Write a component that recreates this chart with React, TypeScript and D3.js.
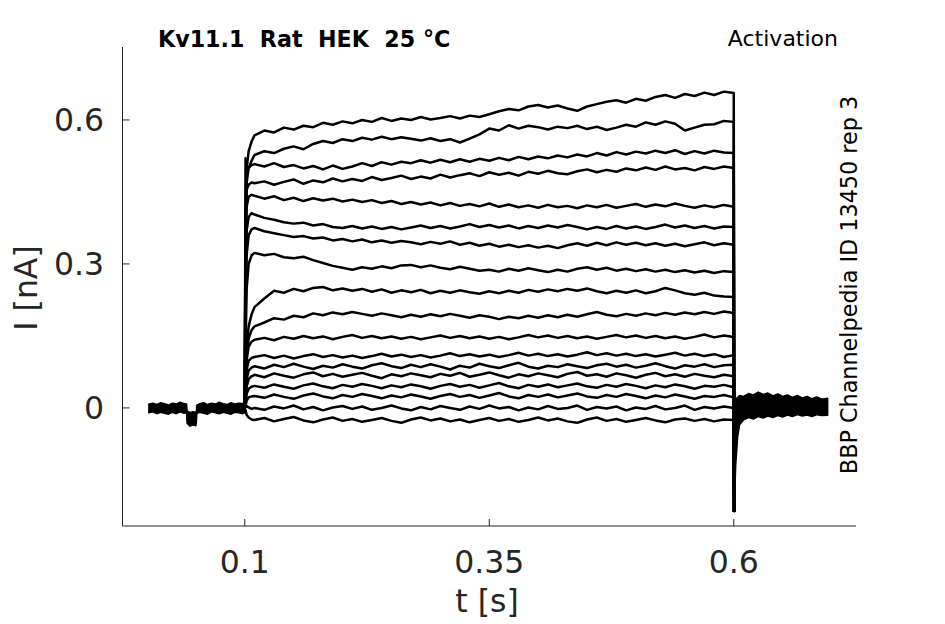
import React from "react";
import * as d3 from "d3";

// time grid of the step (s)
const TIME = [
  0.1, 0.1008, 0.102, 0.104, 0.107,
  0.11, 0.12, 0.13, 0.14, 0.15, 0.16, 0.17, 0.18, 0.19, 0.2,
  0.21, 0.22, 0.23, 0.24, 0.25, 0.26, 0.27, 0.28, 0.29, 0.3,
  0.31, 0.32, 0.33, 0.34, 0.35, 0.36, 0.37, 0.38, 0.39, 0.4,
  0.41, 0.42, 0.43, 0.44, 0.45, 0.46, 0.47, 0.48, 0.49, 0.5,
  0.51, 0.52, 0.53, 0.54, 0.55, 0.56, 0.57, 0.58, 0.59, 0.6,
];

// current during the step, pA, one list per sweep (top to bottom)
const SWEEP_01 = [0, 420, 500, 535, 555,
  568, 578, 574, 584, 580, 588, 585, 594, 590, 597,
  593, 600, 596, 604, 598, 603, 600, 606, 601, 604,
  608, 603, 609, 606, 612, 618, 623, 620, 628, 631,
  626, 630, 624, 619, 628, 633, 638, 641, 636, 644,
  640, 648, 652, 646, 654, 650, 657, 652, 659, 656];
const SWEEP_02 = [0, 350, 470, 500, 515,
  527, 535, 531, 540, 545, 539, 550, 556, 552, 560,
  556, 563, 559, 565, 560, 564, 561, 557, 562, 556,
  560, 553, 561, 570, 582, 578, 589, 582, 588, 585,
  580, 586, 583, 588, 581, 586, 579, 584, 590, 586,
  595, 590, 597, 592, 578, 584, 590, 591, 598, 596];
const SWEEP_03 = [0, 520, 490, 500, 506,
  508, 503, 510, 502, 506, 499, 504, 497, 505, 498,
  503, 510, 504, 512, 507, 513, 510, 516, 511, 517,
  512, 518, 513, 519, 515, 521, 516, 523, 518, 524,
  520, 526, 522, 528, 524, 531, 526, 533, 528, 534,
  530, 536, 531, 537, 529, 535, 530, 536, 532, 531];
const SWEEP_04 = [0, 380, 455, 465, 470,
  468, 472, 465, 471, 476, 467, 474, 470, 478, 472,
  477, 473, 481, 475, 479, 484, 477, 482, 478, 486,
  480, 485, 489, 483, 491, 486, 490, 484, 492, 488,
  494, 489, 487, 493, 497, 491, 496, 492, 499, 495,
  501, 496, 503, 497, 500, 495, 502, 498, 503, 500];
const SWEEP_05 = [0, 300, 420, 440, 444,
  442, 436, 441, 433, 438, 431, 437, 432, 436, 430,
  434, 429, 433, 427, 431, 425, 429, 424, 428, 422,
  427, 421, 425, 420, 426, 419, 424, 418, 422, 417,
  423, 418, 421, 416, 422, 418, 423, 417, 421, 425,
  419, 424, 420, 426, 421, 417, 422, 418, 423, 419];
const SWEEP_06 = [0, 260, 370, 398, 406,
  403, 396, 392, 387, 384, 386, 380, 383, 377, 375,
  379, 374, 378, 373, 377, 372, 376, 380, 375, 379,
  374, 378, 383, 377, 381, 376, 380, 374, 379, 375,
  380, 376, 381, 377, 372, 377, 373, 379, 374, 378,
  373, 377, 382, 376, 380, 375, 379, 374, 378, 377];
const SWEEP_07 = [0, 200, 320, 360, 372,
  375, 368, 364, 360, 356, 358, 353, 355, 349, 352,
  347, 351, 345, 349, 344, 348, 345, 341, 346, 342,
  347, 340, 344, 338, 342, 336, 340, 335, 339, 334,
  338, 333, 339, 343, 338, 344, 339, 345, 340, 344,
  339, 343, 338, 342, 337, 341, 345, 339, 343, 340];
const SWEEP_08 = [0, 130, 250, 300, 318,
  323, 318, 321, 314, 312, 315, 308, 302, 296, 292,
  288, 293, 290, 295, 291, 297, 298, 293, 297, 292,
  289, 294, 290, 286, 288, 284, 290, 286, 291, 287,
  283, 288, 284, 290, 293, 288, 292, 286, 290, 285,
  289, 284, 288, 283, 287, 282, 286, 281, 285, 283];
const SWEEP_09 = [0, 60, 130, 170, 195,
  210, 228, 244, 240, 248, 243, 250, 252, 245, 249,
  244, 248, 242, 247, 240, 245, 241, 246, 239, 244,
  240, 245, 241, 238, 243, 239, 244, 240, 246, 242,
  247, 243, 248, 244, 249, 243, 239, 244, 240, 245,
  239, 243, 250, 245, 239, 236, 240, 234, 232, 231];
const SWEEP_10 = [0, 50, 110, 145, 162,
  170, 178, 187, 184, 192, 189, 197, 193, 199, 195,
  200, 196, 192, 197, 193, 189, 194, 190, 195, 191,
  196, 192, 188, 193, 190, 185, 190, 187, 192, 188,
  193, 189, 194, 190, 195, 200, 194, 191, 196, 192,
  197, 193, 198, 194, 199, 195, 200, 196, 201, 198];
const SWEEP_11 = [0, 40, 100, 128, 138,
  142, 146, 141, 148, 144, 150, 145, 149, 143, 148,
  152, 146, 150, 145, 149, 144, 148, 143, 147, 151,
  146, 150, 145, 149, 144, 148, 143, 147, 152, 147,
  151, 146, 150, 145, 149, 144, 148, 152, 147, 151,
  146, 150, 145, 149, 144, 148, 153, 147, 151, 148];
const SWEEP_12 = [0, 30, 80, 98, 104,
  106, 110, 104, 109, 103, 108, 112, 106, 110, 105,
  109, 104, 108, 113, 107, 111, 106, 110, 105, 109,
  114, 108, 112, 107, 111, 106, 110, 115, 109, 113,
  108, 112, 107, 111, 116, 110, 114, 109, 113, 108,
  112, 107, 111, 115, 109, 113, 108, 112, 106, 110];
const SWEEP_13 = [0, 20, 60, 78, 84,
  87, 82, 90, 85, 92, 86, 81, 88, 84, 91,
  86, 82, 89, 93, 87, 83, 90, 85, 91, 86,
  80, 88, 84, 92, 87, 83, 89, 94, 86, 82,
  88, 85, 91, 87, 83, 89, 92, 86, 90, 84,
  88, 93, 87, 82, 89, 86, 91, 85, 89, 90];
const SWEEP_14 = [0, 15, 45, 60, 66,
  69, 64, 72, 67, 63, 70, 74, 66, 71, 65,
  69, 73, 67, 62, 70, 66, 72, 68, 64, 71,
  67, 73, 65, 69, 74, 68, 63, 70, 66, 72,
  68, 64, 71, 75, 67, 70, 65, 72, 68, 63,
  69, 73, 66, 70, 65, 71, 67, 64, 69, 66];
const SWEEP_15 = [0, 10, 30, 40, 44,
  46, 42, 49, 44, 40, 47, 51, 45, 41, 48,
  44, 50, 46, 41, 47, 43, 49, 45, 40, 46,
  50, 44, 48, 42, 47, 52, 45, 41, 48, 44,
  49, 43, 47, 51, 45, 42, 48, 44, 50, 46,
  41, 47, 43, 49, 45, 40, 46, 44, 48, 43];
const SWEEP_16 = [0, 5, 15, 22, 24,
  25, 21, 28, 23, 19, 26, 30, 24, 20, 27,
  23, 29, 25, 20, 26, 22, 28, 24, 19, 25,
  29, 23, 27, 21, 26, 31, 24, 20, 27, 23,
  28, 22, 26, 30, 24, 21, 27, 23, 29, 25,
  20, 26, 22, 28, 24, 19, 25, 23, 27, 22];
const SWEEP_17 = [0, 2, 4, 1, -2,
  0, -4, 3, -1, 5, -3, 2, -5, 1, 4,
  -2, 3, -4, 0, 5, -1, -5, 2, -3, 4,
  0, -4, 3, -2, 5, -1, 2, -5, 1, -3,
  4, -2, 0, 5, -4, 2, -1, 3, -5, 1,
  -2, 4, -3, 0, 5, -4, 2, -1, 3, 0];
const SWEEP_18 = [0, -5, -15, -20, -24,
  -25, -21, -28, -23, -19, -26, -30, -24, -20, -27,
  -23, -29, -25, -21, -27, -31, -24, -20, -26, -22,
  -28, -24, -30, -25, -21, -27, -23, -29, -25, -20,
  -26, -22, -28, -31, -24, -20, -27, -23, -29, -25,
  -21, -26, -30, -24, -22, -27, -23, -28, -24, -25];

const SWEEPS = [
  SWEEP_01, SWEEP_02, SWEEP_03, SWEEP_04, SWEEP_05, SWEEP_06,
  SWEEP_07, SWEEP_08, SWEEP_09, SWEEP_10, SWEEP_11, SWEEP_12,
  SWEEP_13, SWEEP_14, SWEEP_15, SWEEP_16, SWEEP_17, SWEEP_18,
];

// holding period before the step: envelope of all overlapping sweeps (pA)
const BASE_T = [
  0.002, 0.006, 0.01, 0.014, 0.018, 0.022, 0.026, 0.03, 0.034, 0.038,
  0.0405, 0.041, 0.044, 0.047, 0.05, 0.0505, 0.051, 0.054, 0.058, 0.062,
  0.066, 0.07, 0.074, 0.078, 0.082, 0.086, 0.09, 0.094, 0.098, 0.1,
];
const BASE_HI = [8, 10, 7, 11, 9, 6, 10, 8, 12, 9, 8, -6, -10, -8, -9, -7, 6, 9, 11, 7, 10, 8, 12, 9, 7, 11, 8, 10, 9, 8];
const BASE_LO = [-10, -8, -12, -9, -11, -13, -9, -12, -8, -11, -10, -32, -38, -35, -37, -30, -12, -9, -11, -13, -8, -10, -12, -9, -11, -13, -9, -10, -12, -10];

// tail after the step: envelope of all sweeps (pA)
const TAIL_T = [
  0.6004, 0.6008, 0.602, 0.604, 0.606, 0.61, 0.615, 0.62, 0.625, 0.63, 0.635, 0.64,
  0.645, 0.65, 0.655, 0.66, 0.665, 0.67, 0.675, 0.68, 0.685, 0.69, 0.696,
];
const TAIL_HI = [0, 10, 18, 22, 26, 24, 30, 27, 33, 28, 31, 25, 29, 24, 27, 22, 26, 21, 24, 19, 23, 18, 20];
const TAIL_LO = [-217, -190, -120, -60, -35, -25, -20, -23, -18, -21, -17, -20, -16, -19, -15, -18, -14, -17, -15, -18, -14, -16, -15];

const X_TICKS = [0.1, 0.35, 0.6];
const X_LABELS = ["0.1", "0.35", "0.6"];
const Y_TICKS = [0, 0.3, 0.6];
const Y_LABELS = ["0", "0.3", "0.6"];

const FONT = "'DejaVu Sans', sans-serif";
const AXIS = "#262626";

export default function App() {
  const x = d3.scaleLinear().domain([-0.025, 0.725]).range([122.5, 856]);
  const y = d3.scaleLinear().domain([-0.246, 0.752]).range([526, 47]);

  const line = d3
    .line<[number, number]>()
    .x((d) => x(d[0]))
    .y((d) => y(d[1] / 1000));

  const area = d3
    .area<[number, number, number]>()
    .x((d) => x(d[0]))
    .y0((d) => y(d[2] / 1000))
    .y1((d) => y(d[1] / 1000));

  const basePts = BASE_T.map((t, i) => [t, BASE_HI[i], BASE_LO[i]] as [number, number, number]);
  const tailPts = TAIL_T.map((t, i) => [t, TAIL_HI[i], TAIL_LO[i]] as [number, number, number]);

  const sweepPaths = SWEEPS.map((vals) => {
    const pts = vals.map((v, i) => [TIME[i], v] as [number, number]);
    pts.push([TAIL_T[0], TAIL_LO[0]]);
    return line(pts) || "";
  });

  const [x0, x1] = x.range();
  const [yb, yt] = y.range();

  return (
    <svg
      width={945}
      height={624}
      style={{ position: "absolute", left: 0, top: 0, background: "#fff" }}
      fontFamily={FONT}
    >
      {/* traces */}
      <path d={area(basePts) || ""} fill="#000" stroke="#000" strokeWidth={1.5} strokeLinejoin="round" />
      <path d={area(tailPts) || ""} fill="#000" stroke="#000" strokeWidth={1.5} strokeLinejoin="round" />
      {sweepPaths.map((d, i) => (
        <path key={i} d={d} fill="none" stroke="#000" strokeWidth={2.5} strokeLinejoin="round" />
      ))}

      {/* axes */}
      <line x1={x0} x2={x0} y1={yt} y2={yb} stroke={AXIS} strokeWidth={1} />
      <line x1={x0} x2={x1} y1={yb} y2={yb} stroke={AXIS} strokeWidth={1} />
      {Y_TICKS.map((t, i) => (
        <g key={t}>
          <line x1={x0} x2={x0 + 7} y1={y(t)} y2={y(t)} stroke={AXIS} strokeWidth={1} />
          <text x={104} y={y(t) + 11.5} fontSize={31.5} fill={AXIS} textAnchor="end">
            {Y_LABELS[i]}
          </text>
        </g>
      ))}
      {X_TICKS.map((t, i) => (
        <g key={t}>
          <line x1={x(t)} x2={x(t)} y1={yb} y2={yb - 7} stroke={AXIS} strokeWidth={1} />
          <text x={x(t)} y={573} fontSize={31.5} fill={AXIS} textAnchor="middle">
            {X_LABELS[i]}
          </text>
        </g>
      ))}

      {/* axis labels */}
      <text x={487} y={612} fontSize={31.5} fill={AXIS} textAnchor="middle">
        t [s]
      </text>
      <text transform="translate(37,288) rotate(-90)" fontSize={31.5} fill={AXIS} textAnchor="middle">
        I [nA]
      </text>

      {/* annotations */}
      <text x={158} y={47} fontSize={22.2} fontWeight="bold" fill="#000" style={{ whiteSpace: "pre" }}>
        {"Kv11.1  Rat  HEK  25 °C"}
      </text>
      <text x={838} y={46} fontSize={22} fill="#000" textAnchor="end">
        Activation
      </text>
      <text transform="translate(857,285) rotate(-90)" fontSize={22.3} fill="#000" textAnchor="middle">
        BBP Channelpedia ID 13450 rep 3
      </text>
    </svg>
  );
}
